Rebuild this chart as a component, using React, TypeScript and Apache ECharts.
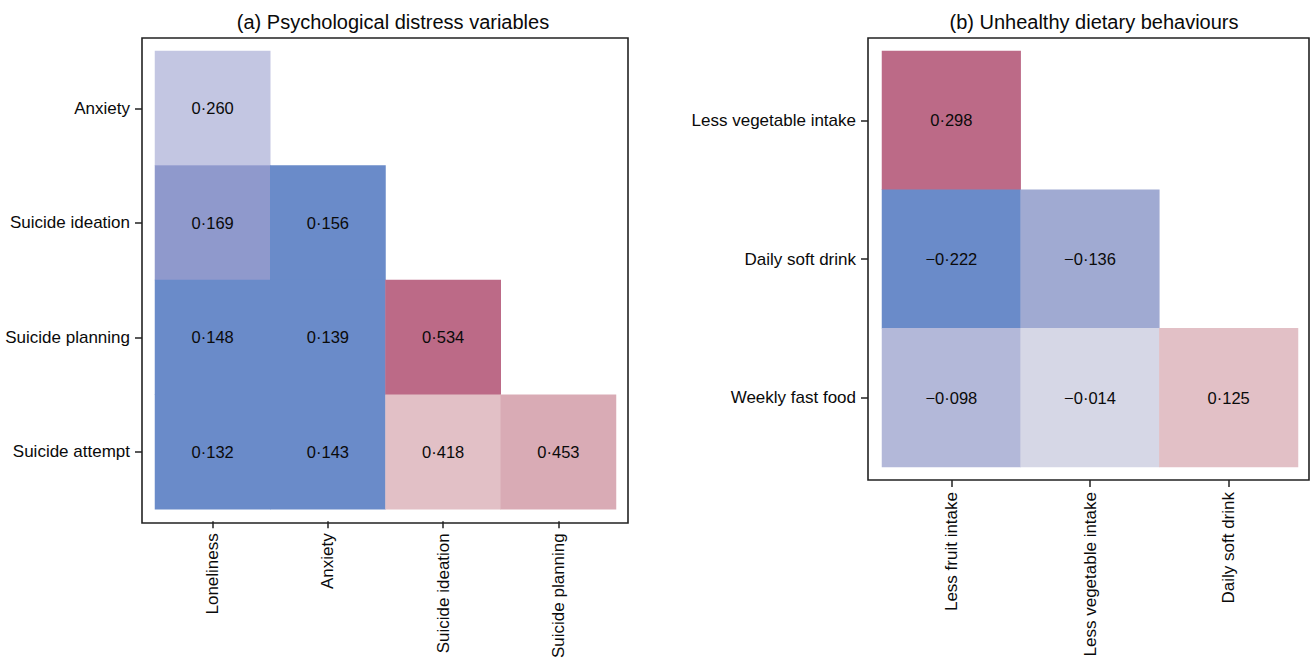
import React, { useEffect, useRef } from "react";
import * as echarts from "echarts";

// Panel (a)
const aRows = ["Anxiety", "Suicide ideation", "Suicide planning", "Suicide attempt"];
const aCols = ["Loneliness", "Anxiety", "Suicide ideation", "Suicide planning"];
const aValues: (number | null)[][] = [
  [0.26, null, null, null],
  [0.169, 0.156, null, null],
  [0.148, 0.139, 0.534, null],
  [0.132, 0.143, 0.418, 0.453],
];

// Panel (b)
const bRows = ["Less vegetable intake", "Daily soft drink", "Weekly fast food"];
const bCols = ["Less fruit intake", "Less vegetable intake", "Daily soft drink"];
const bValues: (number | null)[][] = [
  [0.298, null, null],
  [-0.222, -0.136, null],
  [-0.098, -0.014, 0.125],
];

// shade palette and the shade index of each cell
const palette = ["#c3c6e2", "#8f99cc", "#6a8bc9", "#bc6a87", "#e2c0c6", "#d9abb5", "#a0aad2", "#b3b8d9", "#d6d7e6"];
const aShade: (number | null)[][] = [
  [0, null, null, null],
  [1, 2, null, null],
  [2, 2, 3, null],
  [2, 2, 4, 5],
];
const bShade: (number | null)[][] = [
  [3, null, null],
  [2, 6, null],
  [7, 8, 4],
];

const titles = ["(a) Psychological distress variables", "(b) Unhealthy dietary behaviours"];

const FONT = "Liberation Sans, Arial, sans-serif";

function fmt(v: number): string {
  const s = Math.abs(v).toFixed(3).replace(".", "\u00b7");
  return (v < 0 ? "\u2212" : "") + s;
}

function buildData(values: (number | null)[][], shades: (number | null)[][]) {
  const out: any[] = [];
  values.forEach((row, r) => {
    row.forEach((v, c) => {
      if (v === null) return;
      out.push([c, r, v, shades[r][c]]);
    });
  });
  return out;
}

export default function App() {
  const ref = useRef<HTMLDivElement>(null);
  useEffect(() => {
    document.body.style.margin = "0";
    if (!ref.current) return;
    const chart = echarts.init(ref.current, null, { renderer: "svg" });

    const frames = [
      { x: 142, y: 38, w: 486, h: 485 },
      { x: 868, y: 38, w: 441, h: 442 },
    ];
    const grids = [
      { left: 155, top: 51, width: 461, height: 460 },
      { left: 882, top: 51, width: 416, height: 416 },
    ];

    const axisCommon = {
      type: "category" as const,
      axisLine: { show: false },
      axisTick: { show: true, length: 7, lineStyle: { color: "#222", width: 1.5 }, alignWithLabel: true },
      splitLine: { show: false },
      axisLabel: { color: "#0a0a0a", fontSize: 17, fontFamily: FONT, margin: 12 },
    };

    const labelCfg = {
      show: true,
      formatter: (p: any) => fmt(p.value[2]),
      color: "#0a0a0a",
      fontSize: 16.5,
      fontFamily: FONT,
    };

    const titleStyle = { fontSize: 20, fontWeight: "normal", color: "#0a0a0a", fontFamily: FONT };

    const option: any = {
      animation: false,
      backgroundColor: "#ffffff",
      title: [
        { text: titles[0], left: 388, top: 7, textAlign: "center", textStyle: titleStyle },
        { text: titles[1], left: 1089, top: 7, textAlign: "center", textStyle: titleStyle },
      ],
      visualMap: {
        type: "piecewise",
        show: false,
        dimension: 3,
        seriesIndex: [0, 1],
        pieces: palette.map((c, i) => ({ value: i, color: c })),
      },
      grid: grids.map((g) => ({ ...g, containLabel: false })),
      xAxis: [
        { ...axisCommon, gridIndex: 0, data: aCols, position: "bottom", offset: 12, axisLabel: { ...axisCommon.axisLabel, rotate: 90 } },
        { ...axisCommon, gridIndex: 1, data: bCols, position: "bottom", offset: 13, axisLabel: { ...axisCommon.axisLabel, rotate: 90 } },
      ],
      yAxis: [
        { ...axisCommon, gridIndex: 0, data: aRows, inverse: true, position: "left", offset: 13 },
        { ...axisCommon, gridIndex: 1, data: bRows, inverse: true, position: "left", offset: 14 },
      ],
      series: [
        {
          type: "heatmap",
          xAxisIndex: 0,
          yAxisIndex: 0,
          data: buildData(aValues, aShade),
          label: labelCfg,
          itemStyle: { borderWidth: 0 },
          emphasis: { disabled: true },
        },
        {
          type: "heatmap",
          xAxisIndex: 1,
          yAxisIndex: 1,
          data: buildData(bValues, bShade),
          label: labelCfg,
          itemStyle: { borderWidth: 0 },
          emphasis: { disabled: true },
        },
      ],
      graphic: frames.map((f) => ({
        type: "rect",
        shape: { x: f.x, y: f.y, width: f.w, height: f.h },
        style: { fill: "none", stroke: "#222", lineWidth: 1.6 },
        z: 100,
        silent: true,
      })),
    };

    chart.setOption(option);
    return () => chart.dispose();
  }, []);
  return <div ref={ref} style={{ width: 1312, height: 661 }} />;
}
